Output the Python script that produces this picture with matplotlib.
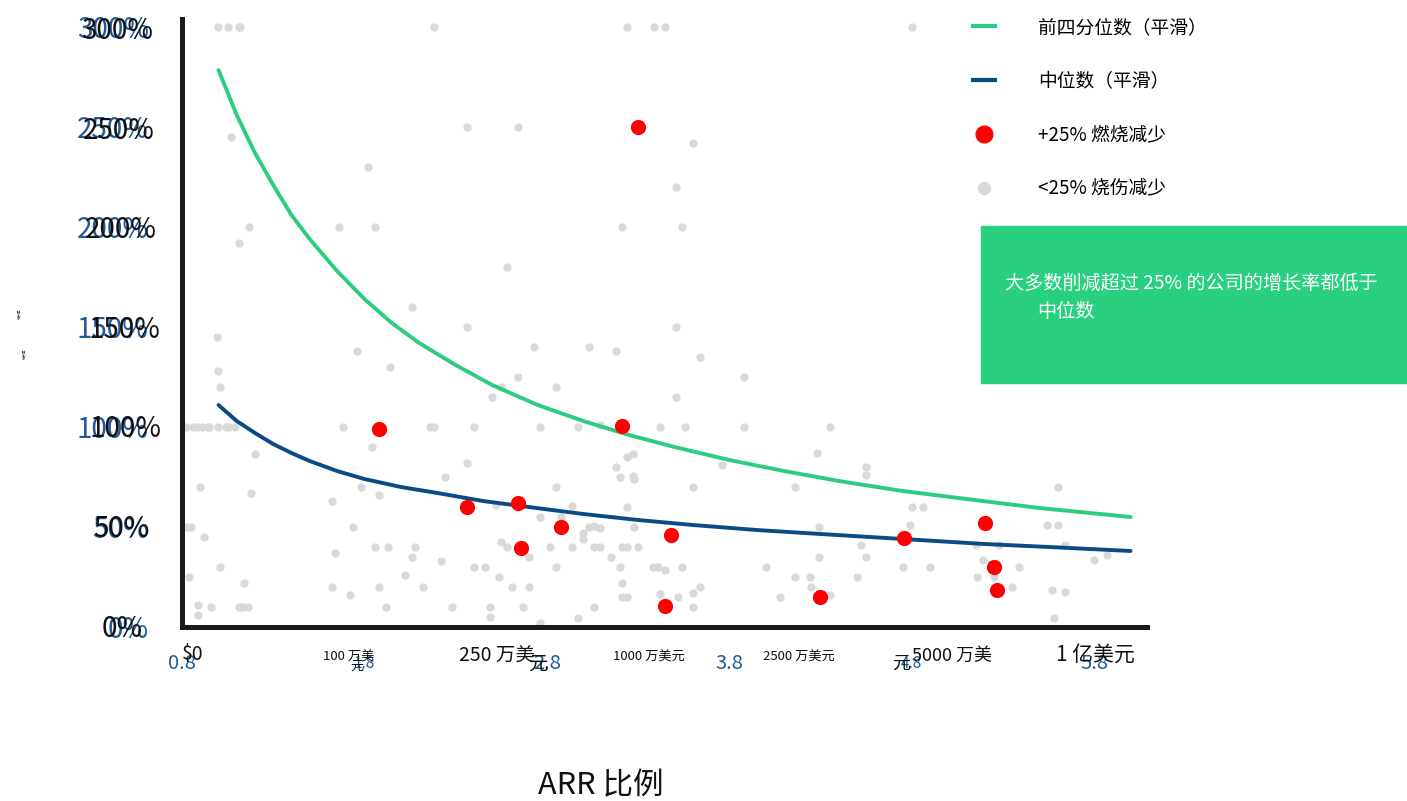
import numpy as np
import matplotlib
matplotlib.use("Agg")
import matplotlib.pyplot as plt
from matplotlib.lines import Line2D
from matplotlib.patches import Rectangle

plt.rcParams['font.family'] = ['Noto Sans CJK SC', 'DejaVu Sans']

# -----------------------------
# 1. DATA
# -----------------------------
# x is log10 ARR scale, y is growth in %

# smoothed upper quartile
q_x = [1.00, 1.10, 1.20, 1.30, 1.40, 1.50, 1.65, 1.80, 1.95, 2.10, 2.30, 2.50,
       2.75, 3.00, 3.25, 3.50, 3.80, 4.10, 4.40, 4.75, 5.10, 5.50, 6.00]
q_y = [278.5, 256, 237, 221, 206, 194, 178, 164, 152, 142, 131, 121,
       111, 103, 96, 90, 83.5, 78, 73, 68, 64, 59.5, 55]

# smoothed median
m_x = [1.00, 1.10, 1.20, 1.30, 1.40, 1.50, 1.65, 1.80, 2.00, 2.20, 2.45, 2.70,
       3.00, 3.30, 3.60, 3.95, 4.30, 4.75, 5.20, 5.60, 6.00]
m_y = [111, 103, 97, 91.5, 87, 83, 78, 74, 70, 67, 63, 60,
       56.5, 53.5, 51, 48.5, 46.5, 44, 41.5, 39.8, 38]

# companies that cut burn by 25%+
red_x = [1.88, 2.36, 2.64, 2.66, 2.88, 3.21, 3.30, 3.48, 3.45, 4.30, 4.76, 5.20, 5.25, 5.27]
red_y = [99, 60, 62, 39.5, 50, 100.5, 250, 46, 10.5, 15, 44.5, 52, 30, 18.5]

# companies that cut burn by less than 25%
gray_x = [
    1.00, 1.05, 1.11, 1.12, 2.18, 3.24, 3.39, 3.45, 4.80,
    2.36, 2.64, 1.07, 3.60, 1.82, 3.51, 1.17, 1.66, 1.86, 3.21, 3.54, 1.11,
    2.58, 2.06, 2.36, 3.51, 0.99, 2.73, 3.03, 3.18, 1.76, 3.64, 1.94, 1.00,
    2.64, 3.88, 2.85, 2.55, 1.01, 2.50, 3.51,
    0.82, 0.86, 0.88, 0.91, 0.94, 0.95, 1.00, 1.04, 1.06, 1.09, 1.68, 2.16,
    2.18, 2.40, 2.76, 2.97, 3.09, 3.42, 3.56, 3.88, 4.35,
    1.20, 1.84, 3.24, 3.27, 2.36, 3.76, 3.18, 4.55, 4.55, 3.20, 3.27, 3.28,
    2.24, 4.28, 0.90, 1.78, 2.85, 3.60, 4.16, 5.60, 1.18, 1.88, 1.62, 2.52,
    2.94, 3.24, 4.80, 4.86, 2.76, 2.88, 0.83, 0.85, 1.74, 3.00, 3.03, 3.06,
    3.09, 3.28, 4.29, 4.79, 5.54, 5.60, 0.92, 3.00, 2.55, 2.58, 2.82, 2.94,
    3.06, 3.09, 3.21, 3.24, 3.30, 1.86, 1.93, 2.08, 4.52, 5.15, 5.28, 5.64,
    1.64, 2.70, 3.15, 4.29, 4.55, 2.06, 2.22, 5.80, 5.87, 5.19, 1.01, 2.40,
    2.46, 2.85, 3.20, 3.38, 3.41, 3.45, 3.54, 4.00, 4.75, 4.90, 5.39, 2.02,
    0.84, 2.54, 4.16, 4.24, 4.50, 5.16, 5.25, 1.14, 3.21, 1.62, 1.88, 2.12,
    2.61, 2.70, 3.64, 4.25, 5.35, 5.57, 5.64, 1.72, 3.21, 3.24, 3.42, 3.52,
    3.60, 4.08, 4.35, 0.89, 0.96, 1.11, 1.13, 1.16, 1.92, 2.28, 2.49, 2.67,
    3.06, 3.60, 0.89, 2.49, 2.97, 5.58, 2.76,
]
gray_y = [
    300, 300, 300, 300, 300, 300, 300, 300, 300,
    250, 250, 245, 242, 230, 220, 200, 200, 200, 200, 200, 192,
    180, 160, 150, 150, 145, 140, 140, 138, 138, 135, 130, 128,
    125, 125, 120, 120, 120, 115, 115,
    100, 100, 100, 100, 100, 100, 100, 100, 100, 100, 100, 100,
    100, 100, 100, 100, 101, 100, 100, 100, 100,
    86.5, 90, 85, 86.5, 82, 81, 80, 80, 76, 75, 75.5, 74,
    75, 87, 70, 70, 70, 70, 70, 70, 67, 66, 63, 61,
    60.5, 60, 60, 60, 55, 55, 50, 50, 50, 47, 50, 50.5,
    49.5, 50, 50, 51, 51, 51, 45, 44, 42.5, 40, 40, 40,
    40, 40, 40, 40, 40, 40, 40, 40, 41, 41, 41, 41,
    37, 35, 35, 35, 35, 35, 33, 33.5, 36, 33.5, 30, 30,
    30, 30, 30, 30, 30, 28.5, 30, 30, 30, 30, 30, 26,
    25, 25, 25, 25, 25, 25, 25, 22, 22, 20, 20, 20,
    20, 20, 20, 20, 20, 18.5, 17.5, 16, 15, 15, 16.5, 15,
    17, 15, 16, 11, 10, 10, 10, 10, 10, 10, 10, 10,
    10, 10, 6, 5, 4.5, 4.5, 2,
]

x_ticks = [0.8, 1.8, 2.8, 3.8, 4.8, 5.8]
y_ticks = [0, 50, 100, 150, 200, 250, 300]
y_labels = ["0%", "50%", "100%", "150%", "200%", "250%", "300%"]

GREEN = "#2ecc7e"
NAVY = "#0b4a85"
TICK_BLUE = "#1f5a96"
GRAY = "#d9d9d9"

# -----------------------------
# 2. PLOT
# -----------------------------
W, H = 1407, 801
fig = plt.figure(figsize=(W / 100, H / 100), dpi=100)
ax = fig.add_axes([182 / W, 1 - 627 / H, 965 / W, 608 / H])

ax.scatter(gray_x, gray_y, s=36, color=GRAY, linewidths=0, zorder=2)
ax.plot(q_x, q_y, color=GREEN, lw=2.8, solid_capstyle="round", solid_joinstyle="round", zorder=3)
ax.plot(m_x, m_y, color=NAVY, lw=2.8, solid_capstyle="round", solid_joinstyle="round", zorder=3)
ax.scatter(red_x, red_y, s=120, color="#ff0000", linewidths=0, zorder=4)

ax.set_xlim(0.8, 6.09)
ax.set_ylim(0, 304)

for side in ["top", "right"]:
    ax.spines[side].set_visible(False)
for side in ["left", "bottom"]:
    ax.spines[side].set_linewidth(3.6)
    ax.spines[side].set_color("#1a1a1a")

ax.set_xticks(x_ticks)
ax.set_xticklabels([str(v) for v in x_ticks])
ax.set_yticks(y_ticks)
ax.set_yticklabels(y_labels)
ax.tick_params(axis="y", length=0, pad=24, labelsize=20, labelcolor=TICK_BLUE)
ax.tick_params(axis="x", length=0, pad=26, labelsize=14.5, labelcolor=TICK_BLUE)
for i, lab in enumerate(ax.get_xticklabels()):
    lab.set_verticalalignment("center")
    if i in (1, 4):
        lab.set_fontsize(11)

# overlaid black axis text
def px(x, y):
    return x / W, 1 - y / H

ylab_pos = [(143, 629), (150, 529), (162, 429), (160, 330), (157, 230), (155, 131), (153, 31)]
for lab, (x, y) in zip(y_labels, ylab_pos):
    fig.text(*px(x, y), lab, fontsize=20, ha="right", va="center", color="#111111")

x_text = [
    ("$0", 193, 655, 14, "center"),
    ("100 万美", 323, 657, 9.5, "left"),
    ("元", 350, 666, 9.5, "left"),
    ("250 万美", 459, 656, 14, "left"),
    ("元", 528, 664, 14, "left"),
    ("1000 万美元", 613, 657, 9.5, "left"),
    ("2500 万美元", 763, 657, 9.5, "left"),
    ("5000 万美", 912, 656, 13, "left"),
    ("元", 892, 664, 13, "left"),
    ("1 亿美元", 1056, 655, 15, "left"),
]
for s, x, y, fs, ha in x_text:
    fig.text(*px(x, y), s, fontsize=fs, ha=ha, va="center", color="#111111")

fig.text(*px(601, 786), "ARR 比例", fontsize=22, ha="center", va="center", color="#111111")

# tiny side caption
fig.text(*px(19, 314), "增长率", fontsize=2.5, rotation=90, ha="center", va="center", color="#333333")
fig.text(*px(24, 354), "增长率", fontsize=2.5, rotation=90, ha="center", va="center", color="#333333")

# legend
handles = [
    Line2D([], [], color=GREEN, lw=3),
    Line2D([], [], color=NAVY, lw=3),
    Line2D([], [], color="#ff0000", marker="o", ls="", markersize=12),
    Line2D([], [], color=GRAY, marker="o", ls="", markersize=8.5),
]
labels = ["前四分位数（平滑）", "中位数（平滑）", "+25% 燃烧减少", "<25% 烧伤减少"]
fig.legend(handles, labels, loc="upper left", bbox_to_anchor=(973 / W, 1 - 17 / H),
           frameon=False, fontsize=13.5, handlelength=1.15, handletextpad=2.3,
           labelspacing=1.75, borderpad=0, borderaxespad=0)

# callout box
fig.patches.append(Rectangle((981 / W, 1 - 383 / H), 426 / W, 157 / H,
                             transform=fig.transFigure, color="#28d07f", zorder=0))
fig.text(*px(1005, 283), "大多数削减超过 25% 的公司的增长率都低于", fontsize=13.8,
         color="white", ha="left", va="center")
fig.text(*px(1037, 311), "中位数", fontsize=13.8, color="white", ha="left", va="center")

fig.savefig("out.png", dpi=100)
